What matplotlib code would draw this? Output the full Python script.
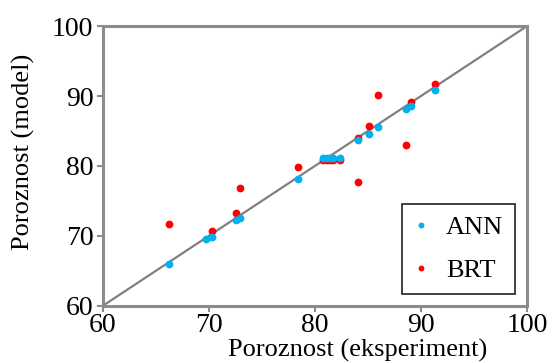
import matplotlib
matplotlib.use("Agg")
import matplotlib.pyplot as plt
import numpy as np

plt.rcParams["font.family"] = ["Liberation Serif", "DejaVu Serif"]

ann_exp = [66.2, 69.7, 70.25, 72.5, 72.95, 78.4, 80.8, 81.1, 81.4, 81.7, 82.4,
           84.1, 85.1, 85.9, 88.6, 89.05, 91.3]
ann_mod = [66.0, 69.5, 69.85, 72.2, 72.5, 78.1, 81.15, 81.2, 81.2, 81.15, 81.1,
           83.7, 84.6, 85.5, 88.1, 88.6, 90.9]

brt_exp = [66.2, 70.25, 72.5, 72.9, 78.4, 80.8, 81.1, 81.4, 81.7, 82.4,
           84.1, 84.1, 85.1, 85.9, 88.6, 89.05, 91.3]
brt_mod = [71.7, 70.7, 73.3, 76.8, 79.9, 80.9, 80.9, 80.9, 80.9, 80.9,
           84.05, 77.7, 85.7, 90.2, 83.0, 89.2, 91.7]

ticks = [60, 70, 80, 90, 100]

fig = plt.figure(figsize=(5.57, 3.63), dpi=100)
ax = fig.add_axes([0.185, 0.158, 0.761, 0.770])

gray = "#8c8c8c"
ax.plot([60, 100], [60, 100], color="#808080", lw=1.6, zorder=1)
ax.plot(ann_exp, ann_mod, "o", color="#00B0F0", ms=5.6, mec="none", label="ANN", zorder=3)
ax.plot(brt_exp, brt_mod, "o", color="#FF0000", ms=5.6, mec="none", label="BRT", zorder=2)

ax.set_xlim(60, 100)
ax.set_ylim(60, 100)
ax.set_xticks(ticks)
ax.set_yticks(ticks)
ax.tick_params(axis="both", direction="out", length=4, width=1.5, color=gray,
               labelsize=20, pad=1)
ax.tick_params(axis="y", pad=3)
for s in ax.spines.values():
    s.set_color(gray)
    s.set_linewidth(2.2)

fig.text(358 / 557, 0.002, "Poroznost (eksperiment)", ha="center", va="bottom", fontsize=19)
fig.text(23 / 557, 1 - 152 / 363, "Poroznost (model)", ha="center", va="center",
         rotation=90, fontsize=19)

leg = ax.legend(loc="lower right", bbox_to_anchor=(1 - 12 / 424, 11.5 / 279.5),
                borderaxespad=0, fontsize=19,
                frameon=True, fancybox=False, edgecolor="black", markerscale=0.75,
                handlelength=0.5, handletextpad=0.7, borderpad=0.45, labelspacing=0.75)
leg.get_frame().set_linewidth(1.3)

fig.savefig("out.png", dpi=100)
